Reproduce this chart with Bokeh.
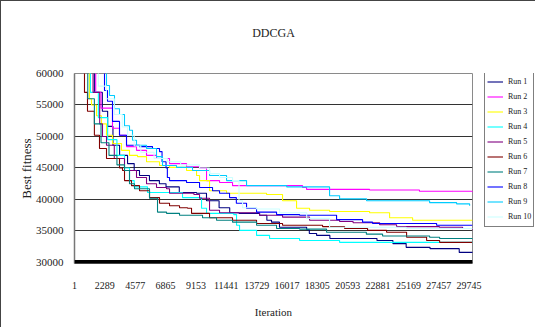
from bokeh.plotting import figure
from bokeh.models import FixedTicker, Span, Range1d, Legend, LegendItem, Title
from bokeh.layouts import row
from bokeh.embed import file_html
from bokeh.resources import INLINE

title_text = "DDCGA"
x_label = "Iteration"
y_label = "Best fitness"

x_ticks = [1, 2289, 4577, 6865, 9153, 11441, 13729, 16017, 18305, 20593, 22881, 25169, 27457, 29745]
y_ticks = [30000, 35000, 40000, 45000, 50000, 55000, 60000]

run_names = ["Run 1", "Run 2", "Run 3", "Run 4", "Run 5", "Run 6", "Run 7", "Run 8", "Run 9", "Run 10"]
run_colors = ["#000080", "#FF00FF", "#FFFF00", "#00FFFF", "#800080",
              "#800000", "#008080", "#0000FF", "#00CCFF", "#CCFFFF"]

run1_iter = [1, 900, 1500, 2100, 2500, 2900, 3400, 4000, 4500, 4900, 5650, 6400, 6900, 7900, 9200, 9950, 10900, 11700, 12400, 13950, 14500, 14850, 15450, 16950, 17500, 17700, 18250, 19250, 22500, 22800, 24000, 25000, 26800, 29000, 30000]
run1_fit = [64000, 60500, 57000, 54000, 51600, 48600, 47000, 45700, 44600, 43800, 43000, 42500, 42000, 41100, 41000, 39800, 38700, 37900, 37800, 37500, 36700, 36400, 35600, 35600, 35200, 34600, 34300, 33800, 33800, 33500, 33000, 32400, 32200, 31600, 31500]

run2_iter = [1, 1100, 1600, 2000, 2865, 3393, 3921, 4675, 5429, 6183, 7163, 8445, 9425, 9953, 10933, 11913, 15500, 17191, 17493, 22243, 26000, 30000]
run2_fit = [65000, 60500, 57000, 54500, 51300, 50200, 48400, 47800, 47000, 46500, 45700, 45200, 45000, 43000, 42700, 42200, 42200, 41900, 41600, 41500, 41300, 41100]

run3_iter = [1, 750, 1131, 1282, 1659, 2036, 2413, 2865, 3544, 4147, 4750, 5429, 6409, 7163, 8445, 9200, 9425, 10179, 11461, 14477, 15683, 16739, 17719, 19227, 22243, 23751, 25485, 30000]
run3_fit = [63000, 60500, 56000, 55000, 53300, 52000, 50200, 48900, 47800, 47000, 46800, 46000, 45400, 45100, 44600, 43800, 43000, 41400, 41000, 40800, 39800, 38600, 38300, 38100, 37900, 37100, 36700, 36700]

run4_iter = [1, 700, 1200, 1800, 2500, 3200, 3770, 4147, 4500, 5504, 7917, 8143, 9199, 9576, 9953, 12000, 12215, 12441, 13723, 14703, 16965, 19981, 30000]
run4_fit = [64000, 60500, 57000, 53000, 49500, 47000, 45000, 43000, 42000, 41100, 41100, 40300, 40300, 38600, 37800, 37600, 35900, 35100, 34300, 33800, 33500, 33200, 33100]

run5_iter = [1, 900, 1400, 1900, 2111, 2413, 3000, 3770, 4675, 5429, 6183, 6937, 7163, 9000, 9425, 10179, 10933, 13949, 15683, 17719, 19981, 21000, 23000, 24279, 27500, 29255, 30000]
run5_fit = [63000, 60500, 57000, 52000, 50000, 48600, 46500, 44600, 43500, 42500, 41900, 41700, 41000, 40800, 40200, 38300, 37900, 37500, 37200, 36700, 36500, 36300, 36000, 35700, 35600, 35400, 35100]

run6_iter = [1, 500, 754, 980, 1500, 1885, 2413, 3393, 3619, 3770, 4298, 4901, 5655, 6409, 7163, 7917, 8520, 8822, 10179, 11913, 13723, 15683, 18699, 20358, 22092, 23525, 25033, 26541, 27521, 30000]
run6_fit = [62000, 60500, 57000, 54000, 50200, 48100, 46500, 45000, 44600, 43000, 42200, 41400, 40300, 39400, 39000, 38700, 38600, 37800, 37100, 36700, 36200, 35900, 35700, 35400, 35100, 34800, 34000, 33500, 33200, 33200]

run7_iter = [1, 600, 1000, 1500, 2000, 2600, 3200, 3770, 4147, 4524, 5655, 6258, 6937, 7917, 9651, 10707, 11913, 13723, 15231, 16965, 19000, 22000, 23223, 26767, 27521, 30000]
run7_fit = [62000, 60500, 56000, 52000, 49000, 47000, 45500, 44600, 42500, 41700, 40200, 38000, 37800, 37500, 37100, 36700, 36400, 35900, 35400, 35300, 34800, 34500, 34200, 34000, 33800, 33700]

run8_iter = [1, 2000, 2262, 2488, 2865, 3393, 3921, 4901, 5881, 6409, 6600, 6900, 7000, 7163, 8445, 9425, 10405, 10933, 11687, 12200, 12969, 13723, 15231, 16965, 19227, 19755, 21715, 22469, 27295, 30000]
run8_fit = [68000, 61000, 57300, 55600, 52400, 50200, 48600, 48400, 48100, 47600, 46000, 45000, 43500, 43000, 42700, 41900, 41400, 41000, 40300, 39400, 38600, 38000, 37600, 37500, 37500, 36800, 36400, 36200, 35900, 35900]

run9_iter = [1, 1700, 2413, 2639, 3016, 3393, 3770, 4147, 4373, 4675, 5429, 6183, 6635, 7691, 8897, 10179, 11461, 12969, 16000, 19227, 19981, 22017, 26767, 28803, 29783]
run9_fit = [64000, 60500, 58100, 56500, 54400, 53500, 51700, 51000, 49400, 48600, 48100, 46800, 45400, 45100, 44600, 43800, 43000, 42200, 42000, 40600, 40100, 39800, 39500, 39300, 39000]

run10_iter = [1, 1200, 1800, 2400, 3000, 3600, 3996, 4500, 5000, 6000, 7000, 8000, 9425, 10179, 10933, 11913, 12400, 12667, 13723, 15457, 17500, 19227, 25000, 30000]
run10_fit = [64000, 60500, 58000, 56000, 53500, 51500, 50200, 48500, 47500, 46500, 46000, 45500, 45000, 44100, 43500, 43000, 39800, 38700, 38500, 37900, 37000, 35600, 35400, 35300]

runs_iter = [run1_iter, run2_iter, run3_iter, run4_iter, run5_iter,
             run6_iter, run7_iter, run8_iter, run9_iter, run10_iter]
runs_fit = [run1_fit, run2_fit, run3_fit, run4_fit, run5_fit,
            run6_fit, run7_fit, run8_fit, run9_fit, run10_fit]

FONT = "Liberation Serif"
TOTAL_H = 326

p = figure(width=482, height=TOTAL_H, output_backend="svg", toolbar_location=None, title=None,
           x_range=Range1d(1, 30000), y_range=Range1d(29840, 60000),
           min_border_left=73, min_border_right=11, min_border_top=72, min_border_bottom=64,
           background_fill_color="white", border_fill_color="white")

# spacer (closest to frame), then the real title above it
p.add_layout(Title(text=" ", text_font_size="15px"), "above")
p.add_layout(Title(text=title_text, align="center", text_font=FONT, text_font_size="12px",
                   text_font_style="normal", text_color="#222222"), "above")

p.outline_line_color = "#8a8a8a"
p.outline_line_width = 1

# grid
p.xgrid.visible = False
p.ygrid.ticker = FixedTicker(ticks=y_ticks)
p.ygrid.grid_line_color = "#333333"
p.ygrid.grid_line_width = 1

# x axis
p.xaxis.ticker = FixedTicker(ticks=x_ticks)
p.xaxis.major_label_overrides = {t: str(t) for t in x_ticks}
p.xaxis.axis_line_color = None
p.xaxis.major_tick_line_color = None
p.xaxis.minor_tick_line_color = None
p.xaxis.major_label_standoff = 12
p.xaxis.major_label_text_font = FONT
p.xaxis.major_label_text_font_size = "10px"
p.xaxis.major_label_text_color = "#222222"
p.xaxis.axis_label = x_label
p.xaxis.axis_label_text_font = FONT
p.xaxis.axis_label_text_font_size = "11px"
p.xaxis.axis_label_text_font_style = "normal"
p.xaxis.axis_label_text_color = "#222222"
p.xaxis.axis_label_standoff = 14

# y axis
p.yaxis.ticker = FixedTicker(ticks=y_ticks)
p.yaxis.major_label_overrides = {t: str(t) for t in y_ticks}
p.yaxis.axis_line_color = "#777777"
p.yaxis.axis_line_width = 1.5
p.yaxis.major_tick_line_color = None
p.yaxis.minor_tick_line_color = None
p.yaxis.major_label_standoff = 5
p.yaxis.major_label_text_font = FONT
p.yaxis.major_label_text_font_size = "11px"
p.yaxis.major_label_text_color = "#222222"
p.yaxis.axis_label = y_label
p.yaxis.axis_label_text_font = FONT
p.yaxis.axis_label_text_font_size = "13px"
p.yaxis.axis_label_text_font_style = "normal"
p.yaxis.axis_label_text_color = "#222222"
p.yaxis.axis_label_standoff = -1

for col, xs, ys in zip(run_colors, runs_iter, runs_fit):
    p.step(xs, ys, mode="after", line_color=col, line_width=1.1)

# thick base line at the minimum of the axis
p.add_layout(Span(location=y_ticks[0], dimension="width", line_color="black", line_width=5))

# legend panel: a separate, axis-less figure whose view range hides the runs
q = figure(width=52, height=TOTAL_H, output_backend="svg", toolbar_location=None, title=None,
           x_range=Range1d(0, 1), y_range=Range1d(0, 1),
           min_border_left=0, min_border_right=0, min_border_top=0, min_border_bottom=0,
           background_fill_color="white", border_fill_color="white")
q.axis.visible = False
q.grid.visible = False
q.outline_line_color = None

items = []
for name, col, xs, ys in zip(run_names, run_colors, runs_iter, runs_fit):
    r = q.step(xs, ys, mode="after", line_color=col, line_width=1.1)
    items.append(LegendItem(label=name, renderers=[r]))

lg = Legend(items=items, location=(1, 36))
lg.label_text_font = FONT
lg.label_text_font_size = "8px"
lg.label_text_color = "#222222"
lg.glyph_width = 16
lg.glyph_height = 15
lg.label_height = 15
lg.label_standoff = 5
lg.spacing = 0
lg.padding = 2
lg.margin = 0
lg.border_line_color = "black"
lg.border_line_width = 1
lg.background_fill_color = "white"
lg.background_fill_alpha = 1
q.add_layout(lg, "center")

layout = row(p, q)
layout.styles = {"border-left": "1px solid #444444", "border-top": "1px solid #444444"}

open("out.html", "w").write(file_html(layout, INLINE))
